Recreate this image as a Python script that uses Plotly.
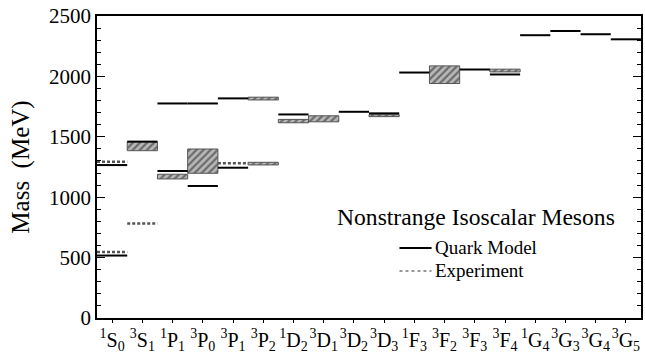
import plotly.graph_objects as go

# Spectroscopic states along the x axis (2S+1 L J)
multiplicity = ["1", "3", "1", "3", "3", "3", "1", "3", "3", "3", "1", "3", "3", "3", "1", "3", "3", "3"]
orbital = ["S", "S", "P", "P", "P", "P", "D", "D", "D", "D", "F", "F", "F", "F", "G", "G", "G", "G"]
total_j = ["0", "1", "1", "0", "1", "2", "2", "1", "2", "3", "3", "2", "3", "4", "4", "3", "4", "5"]
states = [m + l + j for m, l, j in zip(multiplicity, orbital, total_j)]
tick_labels = [f"<sup>{m}</sup>{l}<sub>{j}</sub>" for m, l, j in zip(multiplicity, orbital, total_j)]

# Quark model predictions (MeV)
quark_states = ["1S0", "1S0", "3S1", "1P1", "1P1", "3P0", "3P0", "3P1", "3P1", "1D2",
                "3D2", "3D3", "1F3", "3F3", "3F4", "1G4", "3G3", "3G4", "3G5"]
quark_masses = [517, 1266, 1460, 1217, 1776, 1093, 1776, 1244, 1818, 1685,
                1707, 1694, 2032, 2057, 2016, 2341, 2376, 2349, 2307]

# Experimental states with a mass range (MeV)
exp_box_states = ["3S1", "1P1", "3P0", "3P2", "3P2", "1D2", "3D1", "3D3", "3F2", "3F4"]
exp_box_low = [1385, 1151, 1198, 1267, 1805, 1616, 1624, 1667, 1941, 2037]
exp_box_high = [1459, 1190, 1399, 1289, 1828, 1644, 1674, 1683, 2087, 2060]

# Narrow experimental states (MeV)
exp_line_states = ["1S0", "1S0", "3S1", "3P1"]
exp_line_masses = [547, 1294, 782, 1282]

SERIF = "Liberation Serif"
QUARK_LINE = dict(color="black", width=2)
EXP_LINE = dict(color="#555555", width=2.5, dash="3px,2px")


def segments(state_list, masses):
    xs, ys = [], []
    for s, m in zip(state_list, masses):
        i = states.index(s)
        xs += [i - 0.5, i + 0.5, None]
        ys += [m, m, None]
    return xs, ys


fig = go.Figure()

box_x = [states.index(s) for s in exp_box_states]
fig.add_trace(go.Bar(
    x=box_x,
    y=[h - l for l, h in zip(exp_box_low, exp_box_high)],
    base=exp_box_low,
    width=1,
    marker=dict(
        color="#b8b8b8",
        line=dict(color="#555555", width=1),
        pattern=dict(shape="/", fgcolor="#1e1e1e", bgcolor="#b8b8b8", size=5, solidity=0.45),
    ),
    showlegend=False,
    hoverinfo="skip",
))

ex, ey = segments(exp_line_states, exp_line_masses)
fig.add_trace(go.Scatter(x=ex, y=ey, mode="lines", line=EXP_LINE,
                         name="Experiment", showlegend=False, hoverinfo="skip"))

qx, qy = segments(quark_states, quark_masses)
fig.add_trace(go.Scatter(x=qx, y=qy, mode="lines", line=QUARK_LINE,
                         name="Quark Model", showlegend=False, hoverinfo="skip"))

# Key: heading, sample lines and their labels
key_x0, key_x1 = 0.556, 0.615
key_rows = [("Quark Model", 0.232, QUARK_LINE), ("Experiment", 0.156, dict(color="#777777", width=1.5, dash="dot"))]
shapes, annotations = [], []
annotations.append(dict(
    text="Nonstrange Isoscalar Mesons",
    xref="paper", yref="paper", x=0.697, y=0.336,
    xanchor="center", yanchor="middle", showarrow=False,
    font=dict(family=SERIF, size=23.6, color="black"),
))
for label, ky, style in key_rows:
    shapes.append(dict(type="line", xref="paper", yref="paper",
                       x0=key_x0, x1=key_x1, y0=ky, y1=ky, line=style))
    annotations.append(dict(
        text=label, xref="paper", yref="paper", x=key_x1 + 0.002, y=ky,
        xanchor="left", yanchor="middle", showarrow=False,
        font=dict(family=SERIF, size=19, color="black"),
    ))

fig.update_layout(
    width=645, height=354,
    margin=dict(l=97, r=4, t=16, b=36),
    plot_bgcolor="white", paper_bgcolor="white",
    barmode="overlay",
    showlegend=False,
    font=dict(family=SERIF, color="black"),
    shapes=shapes,
    annotations=annotations,
)

fig.update_xaxes(
    range=[-0.5, len(states) - 0.5],
    tickmode="array", tickvals=list(range(len(states))), ticktext=tick_labels,
    tickangle=0, automargin=False,
    ticks="outside", ticklen=3, tickwidth=1, tickcolor="black",
    showline=True, linecolor="black", linewidth=1.5, mirror=True,
    showgrid=False, zeroline=False,
    tickfont=dict(family=SERIF, size=20, color="black"),
)

fig.update_yaxes(
    range=[0, 2500], automargin=False,
    tickmode="linear", tick0=0, dtick=500,
    ticks="inside", ticklen=8, tickwidth=1, tickcolor="black",
    minor=dict(dtick=100, ticks="inside", ticklen=4, tickcolor="black", showgrid=False),
    showline=True, linecolor="black", linewidth=1.5, mirror="allticks",
    showgrid=False, zeroline=False,
    tickfont=dict(family=SERIF, size=21, color="black"),
    title=dict(text="Mass  (MeV)", font=dict(family=SERIF, size=25, color="black"), standoff=12),
)

fig.write_html("out.html")
